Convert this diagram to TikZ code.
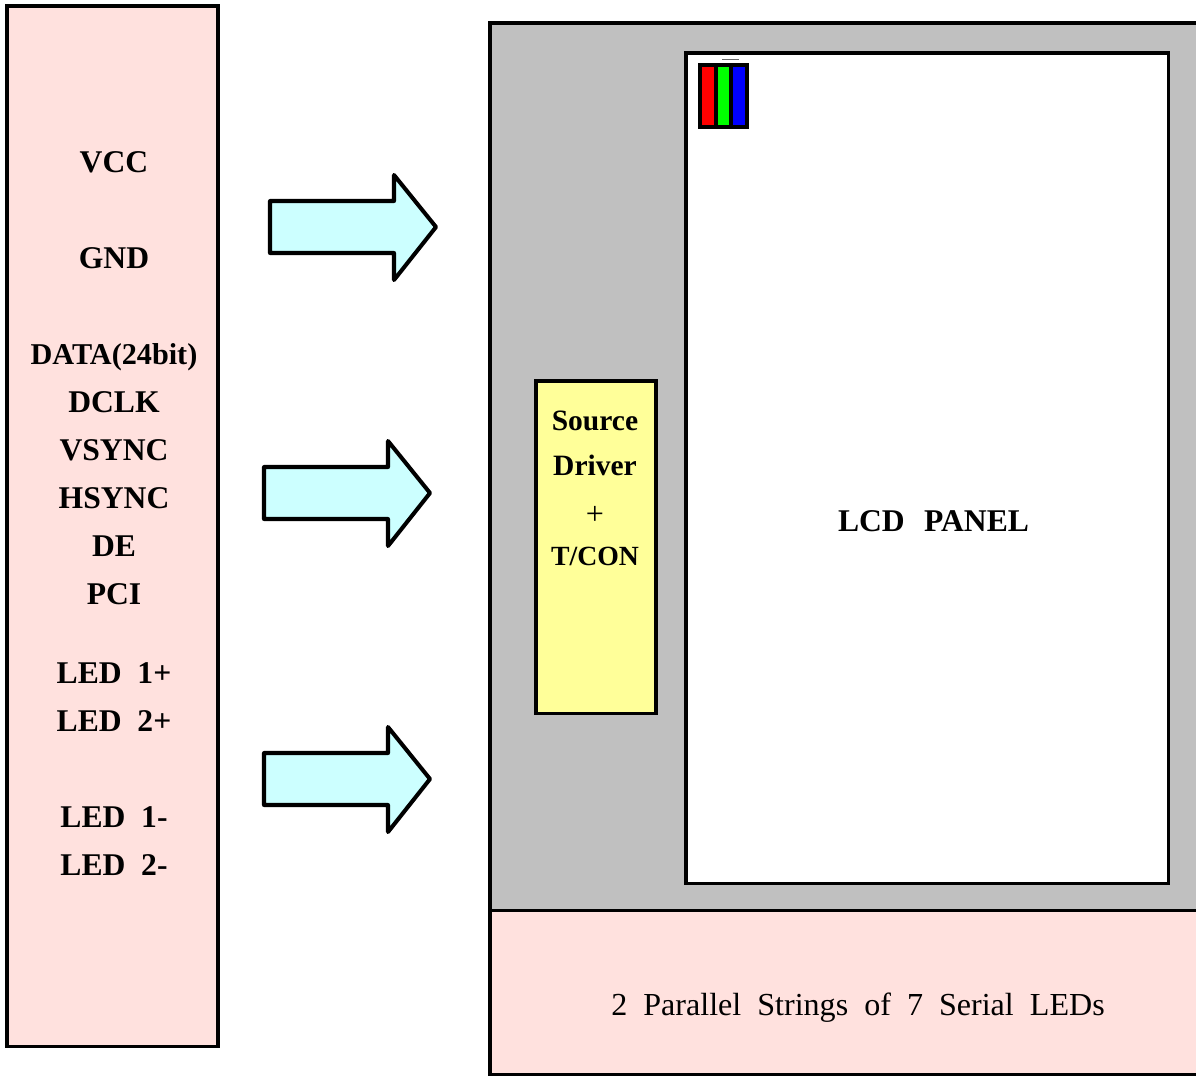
\documentclass[tikz,border=0pt]{standalone}
\usepackage{fontspec}
\setmainfont{Liberation Serif}
\usepackage{color}
\usetikzlibrary{positioning}
\definecolor{pinkbox}{RGB}{255,225,222}
\definecolor{cyanarrow}{RGB}{204,255,255}
\definecolor{yellowbox}{RGB}{255,255,153}
\definecolor{panelgray}{RGB}{192,192,192}
\begin{document}
\begin{tikzpicture}
	[x=0.02cm,y=-0.02cm,
	box/.style={draw=black,line width=1.72pt},
	arrowbox/.style={draw=black,fill=cyanarrow,line width=2.3pt,line join=round},
	pinlabel/.style={anchor=base,inner sep=0pt,font=\fontsize{18}{20}\selectfont\bfseries},
	smalllabel/.style={anchor=base,inner sep=0pt,font=\fontsize{17.2}{20}\selectfont\bfseries},
	driverlabel/.style={anchor=base,inner sep=0pt,font=\fontsize{16.8}{20}\selectfont\bfseries},
	tconlabel/.style={anchor=base,inner sep=0pt,font=\fontsize{15.8}{20}\selectfont\bfseries},
	plainlabel/.style={anchor=base,inner sep=0pt,font=\fontsize{18.25}{20}\selectfont},
	cell/.style={draw=black,line width=1.8pt}]
	\useasboundingbox (0,0) rectangle (1196,1075);
	%  bloque de pines
	\draw[box,fill=pinkbox] (7,6) rectangle (218,1046);
	\node[pinlabel] (vcc) at (114,172) {VCC};
	\node[pinlabel] (gnd) at (114,268) {GND};
	\node[smalllabel] (data) at (114,364) {DATA(24bit)};
	\node[pinlabel] (dclk) at (114,412) {DCLK};
	\node[pinlabel] (vsync) at (114,460) {VSYNC};
	\node[pinlabel] (hsync) at (114,508) {HSYNC};
	\node[pinlabel] (de) at (114,556) {DE};
	\node[pinlabel] (pci) at (114,604) {PCI};
	\node[pinlabel] (led1p) at (114,683) {LED\ \ 1+};
	\node[pinlabel] (led2p) at (114,731) {LED\ \ 2+};
	\node[pinlabel] (led1m) at (114,827) {LED\ \ 1-};
	\node[pinlabel] (led2m) at (114,875) {LED\ \ 2-};
	%  flechas
	\draw[arrowbox] (270,201) -- (394,201) -- (394,175) -- (436,227) -- (394,280) -- (394,253) -- (270,253) -- cycle;
	\draw[arrowbox] (264,467) -- (388,467) -- (388,441) -- (430,493) -- (388,546) -- (388,519) -- (264,519) -- cycle;
	\draw[arrowbox] (264,753) -- (388,753) -- (388,727) -- (430,779) -- (388,832) -- (388,805) -- (264,805) -- cycle;
	%  panel
	\draw[box,fill=panelgray] (490,23) rectangle (1220,910);
	\draw[box,fill=pinkbox] (490,910) rectangle (1220,1074);
	\draw[box,fill=white] (686,53) rectangle (1168,883);
	\draw[box,fill=yellowbox] (536,381) rectangle (656,713);
	\node[pinlabel] (lcd) at (933.5,531) {LCD\ \ \hspace{2pt}PANEL};
	\node[driverlabel] (source) at (595,430) {Source};
	\node[driverlabel] (driver) at (595,475) {Driver};
	\node[plainlabel] (plus) at (595,524) {+};
	\node[tconlabel] (tcon) at (595,565) {T/CON};
	\node[plainlabel] (leds) at (858,1015) {2\ \ Parallel\ \ Strings\ \ of\ \ 7\ \ Serial\ \ LEDs};
	%  subpixeles
	\draw[cell,fill=red] (700,65) rectangle (716,127);
	\draw[cell,fill=green] (716,65) rectangle (731,127);
	\draw[cell,fill=blue] (731,65) rectangle (747,127);
	\draw[black!60,line width=0.5pt] (722,59) -- (739,59);
\end{tikzpicture}
\end{document}
